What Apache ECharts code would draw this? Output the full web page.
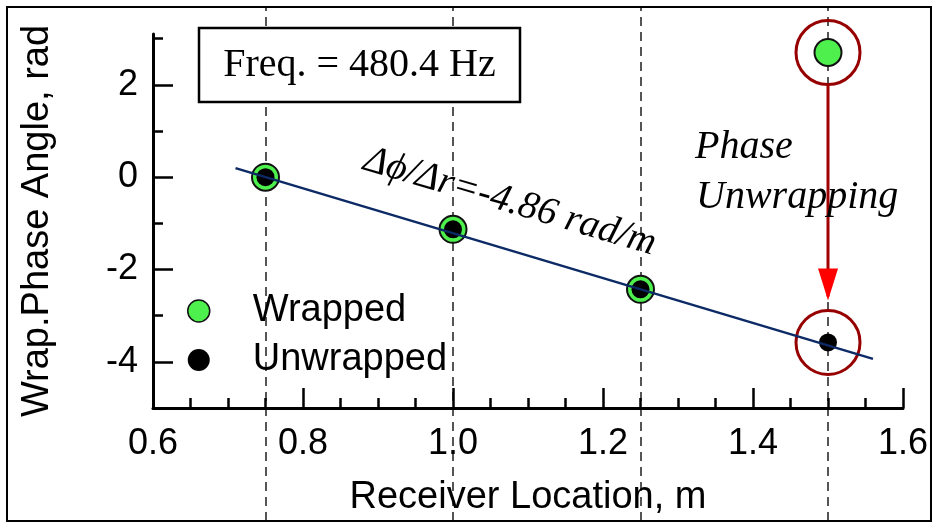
<!DOCTYPE html>
<html>
<head>
<meta charset="utf-8">
<script src="https://cdn.jsdelivr.net/npm/echarts@6/dist/echarts.min.js"></script>
<style>
  html, body { margin: 0; padding: 0; background: #fff; }
  #chart { width: 933px; height: 523px; }
</style>
</head>
<body>
<div id="chart"></div>
<script>
// Receiver positions (m) and measured phase angles (rad)
const receiverLocations = [0.75, 1.0, 1.25, 1.5];
const wrappedPhase = [0.0, -1.13, -2.43, 2.70];
const unwrappedPhase = [0.0, -1.13, -2.43, -3.58];

// Linear fit of the unwrapped phase
const fitSlope = -4.86;      // rad/m
const fitIntercept = 3.645;  // rad
const fitRange = [0.71, 1.56];

// Axis ticks
const xTickValues = [0.6, 0.8, 1.0, 1.2, 1.4, 1.6];
const yMajorTicks = [-4, -2, 0, 2];
const yMinorTicks = [-5, -4, -3, -2, -1, 0, 1, 2, 3];

const sans = '"Liberation Sans", Arial, sans-serif';
const serif = '"Liberation Serif", "Times New Roman", serif';

const fitLine = fitRange.map(r => [r, fitIntercept + fitSlope * r]);
const wrappedPts = receiverLocations.map((r, i) => [r, wrappedPhase[i]]);
const unwrappedPts = receiverLocations.map((r, i) => [r, unwrappedPhase[i]]);
const last = receiverLocations.length - 1;
const ringPts = [[receiverLocations[last], wrappedPhase[last]], [receiverLocations[last], unwrappedPhase[last]]];

const gridBox = { left: 153, top: 34, width: 750, height: 374 };
const yMin = -5, yMax = 3.1;

const chart = echarts.init(document.getElementById('chart'), null, { renderer: 'canvas' });

chart.setOption({
  animation: false,
  backgroundColor: '#fff',
  grid: [
    Object.assign({}, gridBox),                       // data grid
    Object.assign({}, gridBox),                       // major y ticks + labels
    { left: 153, width: 750, top: 7, height: 514 }    // full-height guide lines
  ],
  xAxis: [
    {
      gridIndex: 0, type: 'value', min: 0.6, max: 1.6, interval: 0.2,
      axisLine: { onZero: false, lineStyle: { color: '#000', width: 3 } },
      axisTick: { inside: true, length: 20, lineStyle: { color: '#000', width: 2.5 } },
      minorTick: { show: true, splitNumber: 4, length: 10, lineStyle: { color: '#000', width: 2.5 } },
      splitLine: { show: false },
      minorSplitLine: { show: false },
      axisLabel: {
        color: '#000', fontSize: 36, fontFamily: sans, margin: 18,
        customValues: xTickValues,
        formatter: v => v.toFixed(1)
      },
      name: 'Receiver Location, m',
      nameLocation: 'middle', nameGap: 71,
      nameTextStyle: { color: '#000', fontSize: 38, fontFamily: sans }
    },
    { gridIndex: 1, type: 'value', min: 0.6, max: 1.6, show: false },
    { gridIndex: 2, type: 'value', min: 0.6, max: 1.6, show: false }
  ],
  yAxis: [
    {
      gridIndex: 0, type: 'value', min: yMin, max: yMax,
      axisLine: { onZero: false, lineStyle: { color: '#000', width: 3 } },
      axisTick: { inside: true, length: 10, customValues: yMinorTicks, lineStyle: { color: '#000', width: 2.5 } },
      axisLabel: { show: false },
      splitLine: { show: false },
      name: 'Wrap.Phase Angle, rad',
      nameLocation: 'middle', nameGap: 96, nameRotate: 90,
      nameTextStyle: { color: '#000', fontSize: 38, fontFamily: sans }
    },
    {
      gridIndex: 1, type: 'value', min: yMin, max: yMax,
      axisLine: { show: false, onZero: false },
      axisTick: { inside: true, length: 20, customValues: yMajorTicks, lineStyle: { color: '#000', width: 2.5 } },
      axisLabel: { color: '#000', fontSize: 36, fontFamily: sans, margin: 15, customValues: yMajorTicks },
      splitLine: { show: false }
    },
    { gridIndex: 2, type: 'value', min: 0, max: 1, show: false }
  ],
  legend: {
    orient: 'vertical', left: 182, top: 287,
    itemWidth: 22, itemHeight: 22, itemGap: 11,
    data: [
      { name: 'Wrapped', icon: 'circle', itemStyle: { color: '#4ef04e', borderColor: '#111', borderWidth: 1.5 } },
      { name: 'Unwrapped', icon: 'circle', itemStyle: { color: '#000', borderWidth: 0 } }
    ],
    textStyle: { color: '#000', fontSize: 38, fontFamily: sans, padding: [0, 0, 0, 38] },
    selectedMode: false
  },
  series: [
    {
      name: 'guides', type: 'line', xAxisIndex: 2, yAxisIndex: 2, data: [],
      silent: true, z: 0,
      markLine: {
        silent: true, z: 0, symbol: ['none', 'none'], label: { show: false },
        lineStyle: { color: '#555', width: 2, type: [9, 6] },
        data: receiverLocations.map(v => ({ xAxis: v }))
      }
    },
    {
      name: 'rings', type: 'scatter', data: ringPts, symbol: 'circle', symbolSize: 64,
      itemStyle: { color: 'rgba(0,0,0,0)', borderColor: '#960000', borderWidth: 3, opacity: 1 },
      silent: true, z: 3
    },
    {
      name: 'arrow', type: 'custom', silent: true, z: 7,
      data: [[receiverLocations[last], wrappedPhase[last], unwrappedPhase[last]]],
      encode: { x: 0, y: [1, 2] },
      renderItem: function (params, api) {
        const top = api.coord([api.value(0), api.value(1)]);
        const bot = api.coord([api.value(0), api.value(2)]);
        const r = 32, gap = 10, headH = 32, headW = 20;
        const tipY = bot[1] - r - gap;
        return {
          type: 'group',
          children: [
            { type: 'line', shape: { x1: top[0], y1: top[1] + r, x2: top[0], y2: tipY - 4 },
              style: { stroke: '#a00000', lineWidth: 3 } },
            { type: 'polygon',
              shape: { points: [[top[0] - headW / 2, tipY - headH], [top[0] + headW / 2, tipY - headH], [top[0], tipY]] },
              style: { fill: '#ff0000' } }
          ]
        };
      }
    },
    {
      name: 'Wrapped', type: 'scatter', data: wrappedPts, symbol: 'circle', symbolSize: 27,
      itemStyle: { color: '#4ef04e', borderColor: '#111', borderWidth: 2, opacity: 1 }, z: 4
    },
    {
      name: 'Unwrapped', type: 'scatter', data: unwrappedPts, symbol: 'circle', symbolSize: 18,
      itemStyle: { color: '#000', opacity: 1 }, z: 5
    },
    {
      name: 'fit', type: 'line', data: fitLine, symbol: 'none', silent: true,
      lineStyle: { color: '#0c2a66', width: 2.5 }, z: 6
    }
  ],
  graphic: [
    { type: 'rect', z: 100, silent: true,
      shape: { x: 7, y: 7, width: 924, height: 514 },
      style: { fill: 'none', stroke: '#000', lineWidth: 2 } },
    { type: 'rect', z: 100, silent: true,
      shape: { x: 199, y: 28, width: 321, height: 74 },
      style: { fill: '#fff', stroke: '#000', lineWidth: 2.5 } },
    { type: 'text', z: 101, silent: true, x: 359.5, y: 65,
      style: { text: 'Freq. = 480.4 Hz', fontSize: 40, fontFamily: serif, fill: '#000', align: 'center', verticalAlign: 'middle' } },
    { type: 'text', z: 101, silent: true, x: 695, y: 147,
      style: { text: 'Phase', fontSize: 40, fontStyle: 'italic', fontFamily: serif, fill: '#000', align: 'left', verticalAlign: 'middle' } },
    { type: 'text', z: 101, silent: true, x: 696, y: 197,
      style: { text: 'Unwrapping', fontSize: 40, fontStyle: 'italic', fontFamily: serif, fill: '#000', align: 'left', verticalAlign: 'middle' } },
    { type: 'text', z: 101, silent: true, x: 510, y: 202, rotation: -16.5 * Math.PI / 180,
      style: { text: 'Δϕ/Δr=-4.86 rad/m', fontSize: 39, fontStyle: 'italic', fontFamily: serif, fill: '#000', align: 'center', verticalAlign: 'middle' } }
  ]
});
</script>
</body>
</html>
